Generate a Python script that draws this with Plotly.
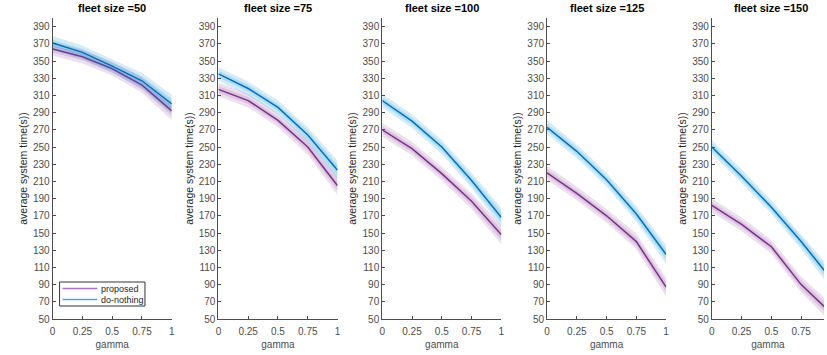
import plotly.graph_objects as go

# gamma sample points
gamma = [0, 0.25, 0.5, 0.75, 1]
fleet_sizes = [50, 75, 100, 125, 150]

# mean average system time per fleet size
proposed = {
    50: [364, 355, 341, 322, 292],
    75: [317, 304, 281, 250, 205],
    100: [270, 248, 219, 187, 148],
    125: [220, 196, 170, 140, 87],
    150: [182, 160, 134, 90, 57],
}
do_nothing = {
    50: [371, 360, 344, 327, 300],
    75: [335, 318, 296, 264, 223],
    100: [304, 280, 250, 211, 168],
    125: [273, 245, 212, 172, 125],
    150: [250, 216, 180, 140, 97],
}
# half-widths of the inner and outer confidence bands
inner_spread = [4, 4, 4, 5, 6]
outer_spread = [8, 8, 8, 9, 11]

y_ticks = list(range(50, 391, 20))
x_ticks = [0, 0.25, 0.5, 0.75, 1]
x_tick_text = ["0", "0.25", "0.5", "0.75", "1"]
series_names = ["proposed", "do-nothing"]

PURPLE = "#7E2F8E"
BLUE = "#0072BD"
styles = {
    "proposed": (PURPLE, "rgba(126,47,142,0.15)", "#B070C0"),
    "do-nothing": (BLUE, "rgba(0,140,215,0.17)", "#4FA8DC"),
}

# pixel extents of each panel (the last one runs past the page edge)
domains = [(50, 170), (217, 337), (382, 502), (548, 668), (714, 834)]
W, H = 827, 355
TOP, BOTTOM = 18, 319

fig = go.Figure()
FONT = "Liberation Sans, Arial, sans-serif"

for i, fs in enumerate(fleet_sizes):
    ax = "" if i == 0 else str(i + 1)
    for name, series in zip(series_names, (proposed[fs], do_nothing[fs])):
        line_c, band_c, _ = styles[name]
        for spread in (outer_spread, inner_spread):
            upper = [v + s for v, s in zip(series, spread)]
            lower = [v - s for v, s in zip(series, spread)]
            fig.add_trace(go.Scatter(
                x=gamma + gamma[::-1], y=upper + lower[::-1],
                fill="toself", fillcolor=band_c, line=dict(width=0),
                mode="lines", hoverinfo="skip", showlegend=False,
                xaxis="x" + ax, yaxis="y" + ax))
        fig.add_trace(go.Scatter(
            x=gamma, y=series, mode="lines", name=name,
            line=dict(color=line_c, width=1.5),
            showlegend=False, xaxis="x" + ax, yaxis="y" + ax))


def px(x):
    return x / W


def py(y):
    return (BOTTOM - y) / (BOTTOM - TOP)


layout = dict(
    width=W, height=H,
    margin=dict(l=0, r=0, t=TOP, b=H - BOTTOM),
    plot_bgcolor="white", paper_bgcolor="white",
    font=dict(family=FONT, size=10, color="#4d4d4d"),
    showlegend=False,
)
annotations = []
shapes = []
for i, fs in enumerate(fleet_sizes):
    ax = "" if i == 0 else str(i + 1)
    x0, x1 = domains[i]
    xr_end = (min(x1, W) - x0) / (x1 - x0)
    layout["xaxis" + ax] = dict(
        domain=[px(x0), px(min(x1, W))], range=[0, xr_end], anchor="y" + ax,
        tickvals=x_ticks, ticktext=x_tick_text,
        ticks="inside", ticklen=3, tickcolor="#4d4d4d",
        showline=True, linecolor="#4d4d4d", linewidth=1,
        showgrid=False, zeroline=False, ticklabelstandoff=3,
        tickfont=dict(size=10, color="#4d4d4d"),
        title=dict(text="gamma", font=dict(size=10, color="#4d4d4d"), standoff=4),
    )
    layout["yaxis" + ax] = dict(
        range=[50, 400], anchor="x" + ax,
        tickvals=y_ticks,
        ticks="inside", ticklen=3, tickcolor="#4d4d4d",
        showline=True, linecolor="#4d4d4d", linewidth=1,
        showgrid=False, zeroline=False,
        tickfont=dict(size=10, color="#4d4d4d"),
        title=dict(text="average system time(s))",
                   font=dict(size=10.5, color="#262626"), standoff=3),
    )
    annotations.append(dict(
        text="<b>fleet size =%d</b>" % fs, xref="paper", yref="paper",
        x=px(x0 + 60), y=1, yshift=2, xanchor="center", yanchor="bottom",
        showarrow=False, font=dict(size=11, color="#000000")))

# legend box inside the first panel
shapes.append(dict(type="rect", xref="paper", yref="paper",
                   x0=px(57), x1=px(143), y0=py(306), y1=py(282),
                   line=dict(color="#333333", width=1), fillcolor="white",
                   layer="above"))
for k, name in enumerate(series_names):
    yy = 288.5 + 11 * k
    shapes.append(dict(type="line", xref="paper", yref="paper",
                       x0=px(60), x1=px(95), y0=py(yy), y1=py(yy),
                       line=dict(color=styles[name][2], width=1.5),
                       layer="above"))
    annotations.append(dict(
        text=name, xref="paper", yref="paper", x=px(97), y=py(yy),
        xanchor="left", yanchor="middle", showarrow=False,
        font=dict(size=9, color="#262626")))

layout["annotations"] = annotations
layout["shapes"] = shapes
fig.update_layout(**layout)

fig.write_html("out.html")
